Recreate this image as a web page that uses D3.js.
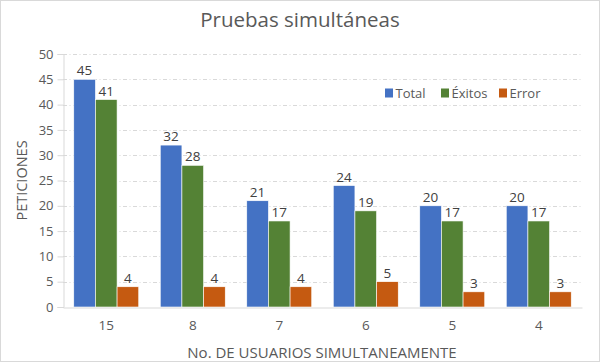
<!DOCTYPE html>
<html>
<head>
<meta charset="utf-8">
<script src="https://cdn.jsdelivr.net/npm/d3@7"></script>
<style>
  body { margin: 0; background: #fff; }
  svg { display: block; font-family: "Open Sans", "Liberation Sans", sans-serif; }
</style>
</head>
<body>
<svg id="chart" width="600" height="362"></svg>
<script>
// ====== DATOS ======
const categorias = ['15', '8', '7', '6', '5', '4'];
const total = [45, 32, 21, 24, 20, 20];
const exitos = [41, 28, 17, 19, 17, 17];
const errores = [4, 4, 4, 5, 3, 3];
const series = ['Total', 'Éxitos', 'Error'];
const colores = ['#4472C4', '#548235', '#C55A11'];
const yTicks = [0, 5, 10, 15, 20, 25, 30, 35, 40, 45, 50];

const valores = [total, exitos, errores];

const svg = d3.select('#chart');
const W = 600, H = 362;
const margin = { left: 63, right: 18, top: 54, bottom: 55 };

// borde del gráfico
svg.append('rect')
  .attr('x', 0.5).attr('y', 0.5)
  .attr('width', W - 1).attr('height', H - 1)
  .attr('fill', '#fff').attr('stroke', '#d9d9d9');

const x0 = d3.scaleBand()
  .domain(categorias)
  .range([margin.left, W - margin.right])
  .paddingInner(0.249)
  .paddingOuter(0.1245);

const x1 = d3.scaleBand()
  .domain(series)
  .range([0, x0.bandwidth()]);

const y = d3.scaleLinear()
  .domain([0, 50])
  .range([H - margin.bottom, margin.top]);

// líneas de cuadrícula
svg.append('g')
  .selectAll('line')
  .data(yTicks.filter(d => d > 0))
  .enter()
  .append('line')
  .attr('x1', margin.left)
  .attr('x2', W - margin.right)
  .attr('y1', d => Math.round(y(d)) + 0.5)
  .attr('y2', d => Math.round(y(d)) + 0.5)
  .attr('stroke', '#d9d9d9')
  .attr('stroke-width', 1)
  .attr('stroke-dasharray', '4,2.5,1,2.5');

// eje Y
const yAxis = svg.append('g')
  .attr('transform', `translate(${margin.left + 0.5},0)`)
  .call(d3.axisLeft(y).tickValues(yTicks).tickSize(6).tickPadding(4));
yAxis.select('.domain').attr('stroke', '#d9d9d9');
yAxis.selectAll('.tick line').attr('stroke', '#d9d9d9');
yAxis.selectAll('.tick text')
  .attr('fill', '#595959')
  .attr('font-size', 13)
  .attr('font-family', '"Open Sans", sans-serif');

// barras
const grupos = svg.append('g')
  .selectAll('g')
  .data(categorias)
  .enter()
  .append('g')
  .attr('transform', d => `translate(${x0(d)},0)`);

grupos.selectAll('rect')
  .data((c, i) => series.map((s, k) => ({ serie: s, valor: valores[k][i], color: colores[k] })))
  .enter()
  .append('rect')
  .attr('x', d => x1(d.serie))
  .attr('width', x1.bandwidth())
  .attr('y', d => y(d.valor))
  .attr('height', d => y(0) - y(d.valor))
  .attr('fill', d => d.color)
  .attr('stroke', '#fff')
  .attr('stroke-width', 0.6);

grupos.selectAll('text')
  .data((c, i) => series.map((s, k) => ({ serie: s, valor: valores[k][i] })))
  .enter()
  .append('text')
  .attr('x', d => x1(d.serie) + x1.bandwidth() / 2)
  .attr('y', d => y(d.valor) - 4)
  .attr('text-anchor', 'middle')
  .attr('fill', '#404040')
  .attr('font-size', 13.5)
  .text(d => d.valor);

// eje X
const xAxis = svg.append('g')
  .attr('transform', `translate(0,${y(0) + 0.5})`)
  .call(d3.axisBottom(x0).tickSize(0).tickPadding(13));
xAxis.select('.domain').attr('stroke', '#d9d9d9');
xAxis.selectAll('.tick text')
  .attr('fill', '#595959')
  .attr('font-size', 13.5)
  .attr('font-family', '"Open Sans", sans-serif');

// título
svg.append('text')
  .attr('x', 300).attr('y', 27)
  .attr('text-anchor', 'middle')
  .attr('fill', '#595959')
  .attr('font-size', 20.5)
  .text('Pruebas simultáneas');

// títulos de ejes
svg.append('text')
  .attr('transform', `translate(27,${(margin.top + H - margin.bottom) / 2}) rotate(-90)`)
  .attr('text-anchor', 'middle')
  .attr('fill', '#595959')
  .attr('font-size', 14.5)
  .text('PETICIONES');

svg.append('text')
  .attr('x', 322).attr('y', 358)
  .attr('text-anchor', 'middle')
  .attr('fill', '#595959')
  .attr('font-size', 15)
  .text('No. DE USUARIOS SIMULTANEAMENTE');

// leyenda
const leyendaX = [385, 441, 499];
const leyenda = svg.append('g')
  .selectAll('g')
  .data(series)
  .enter()
  .append('g')
  .attr('transform', (d, i) => `translate(${leyendaX[i]},88.5)`);
leyenda.append('rect')
  .attr('width', 8).attr('height', 9)
  .attr('fill', (d, i) => colores[i]);
leyenda.append('text')
  .attr('x', 10.5).attr('y', 9.5)
  .attr('fill', '#595959')
  .attr('font-size', 13)
  .text(d => d);
</script>
</body>
</html>
